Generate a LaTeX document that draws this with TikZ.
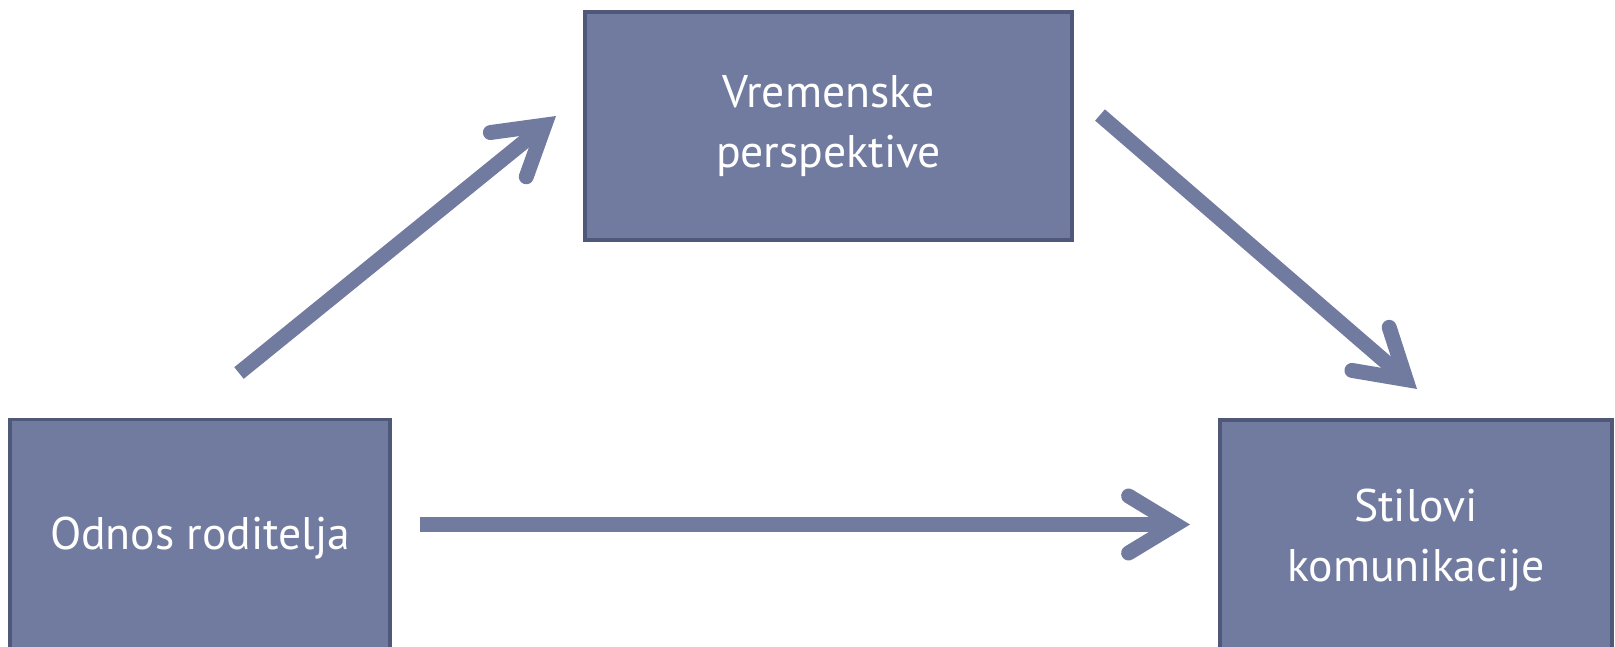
\documentclass[tikz,border=0pt]{standalone}
\usepackage{fontspec}
\setmainfont{PT Sans}
\usepackage{tikz}
\definecolor{boxfill}{RGB}{113, 123, 160}
\definecolor{boxline}{RGB}{80, 88, 122}
\usetikzlibrary{arrows.meta}

\begin{document}
\begin{tikzpicture}
				[every node/.style={inner sep=0pt},
				 box/.style={rectangle, fill=boxfill, draw=boxline, line width=2pt, text=white, align=center, font=\fontsize{26}{34}\selectfont},
				 link/.style={line width=8.5pt, color=boxfill, -{Straight Barb[length=0.94cm, width=1.14cm, line cap=round, line join=miter]}}]
				\useasboundingbox (0, 0) rectangle (32.3, 12.92);
				\node (odnos) [box, minimum width=7.6cm, minimum height=4.76cm] at (4.0, 2.15) {Odnos roditelja};
				\node (vrem) [box, minimum width=9.74cm, minimum height=4.56cm] at (16.57, 10.4) {Vremenske\\perspektive};
				\node (stil) [box, minimum width=7.84cm, minimum height=4.8cm] at (28.32, 2.12) {Stilovi\\komunikacije};
				\coordinate (a1) at (8.4, 2.43);
				\coordinate (b1) at (23.8, 2.43);
				\coordinate (a2) at (4.78, 5.46);
				\coordinate (b2) at (11.12, 10.6);
				\coordinate (a3) at (22.0, 10.62);
				\coordinate (b3) at (28.34, 5.14);
				\draw [link] (a1) to (b1);
				\draw [link] (a2) to (b2);
				\draw [link] (a3) to (b3);
		\end{tikzpicture}
\end{document}
